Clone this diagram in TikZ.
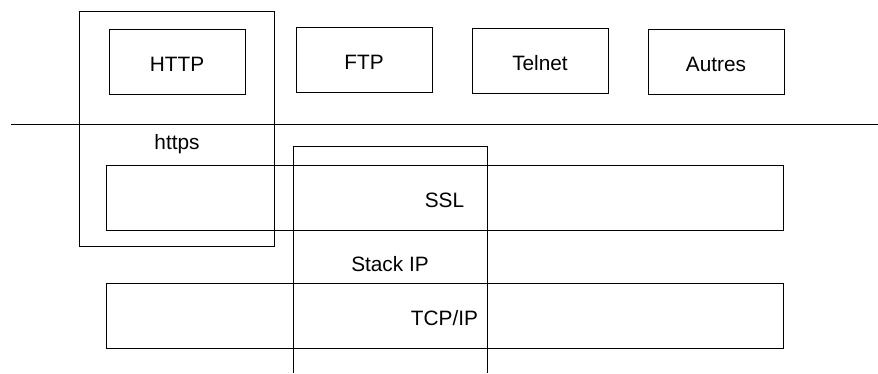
\documentclass[tikz,border=0pt]{standalone}
\usepackage{fontspec}
\setmainfont{Liberation Sans}
\begin{document}
\begin{tikzpicture}[x=1pt,y=-1pt,line width=0.9pt,
  every node/.style={font=\fontsize{20.8}{24}\selectfont},
  proto/.style={draw,minimum width=136pt,minimum height=65pt,inner sep=0pt,text height=21pt,text depth=2pt},
  layer/.style={draw,minimum width=677pt,minimum height=65pt,inner sep=0pt,text height=21pt,text depth=2pt},
  tag/.style={inner sep=0pt,text depth=0pt}]
\useasboundingbox (0,0) rectangle (878,373);
% applications
\node[proto] (http) at (177,61.5) {HTTP};
\node[proto] (ftp) at (364,60) {FTP};
\node[proto] (telnet) at (540,61) {Telnet};
\node[proto] (autres) at (716,62) {Autres};
\draw (11,124.5) -- (878,124.5);
% https
\node[draw,minimum width=195pt,minimum height=235pt,inner sep=0pt] (https) at (176.5,128.5) {};
\node[tag] (httpslbl) at (177,142) {https};
% stack
\draw (293,373) -- (293,146) -- (487,146) -- (487,373);
\node[tag] (stacklbl) at (390,264) {Stack IP};
% layers
\node[layer] (ssl) at (444.5,197.5) {SSL};
\node[layer] (tcpip) at (444.5,316) {TCP/IP};
\end{tikzpicture}
\end{document}
